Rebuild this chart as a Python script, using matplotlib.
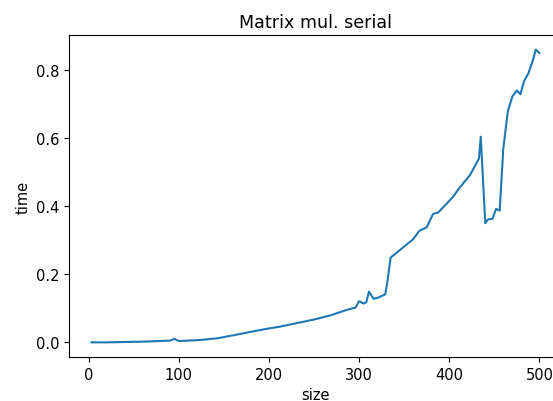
import matplotlib
matplotlib.use("Agg")
import matplotlib.pyplot as plt

plt.rcParams["font.size"] = 10.5

# matrix size vs. runtime (seconds)
sizes = [3, 20, 40, 60, 80, 90, 95, 100, 110, 124, 143, 161, 180, 198, 212,
         230, 250, 268, 286, 296, 300, 305, 308, 311, 316, 321, 329, 331, 335,
         342, 360, 367, 375, 382, 388, 397, 404, 412, 423, 430, 433, 435, 440,
         443, 448, 452, 456, 460, 465, 470, 475, 479, 483, 488, 493, 496, 500]
times = [0.000, 0.000, 0.001, 0.002, 0.004, 0.005, 0.010, 0.004, 0.005, 0.007,
         0.012, 0.021, 0.031, 0.040, 0.046, 0.056, 0.067, 0.079, 0.095, 0.102,
         0.121, 0.114, 0.118, 0.149, 0.128, 0.131, 0.141, 0.170, 0.249, 0.264,
         0.303, 0.328, 0.338, 0.377, 0.382, 0.407, 0.427, 0.456, 0.491, 0.525,
         0.540, 0.604, 0.350, 0.361, 0.363, 0.392, 0.387, 0.569, 0.678, 0.722,
         0.740, 0.729, 0.767, 0.791, 0.830, 0.860, 0.850]

fig = plt.figure(figsize=(5.53, 4.02), dpi=100)
# the reference is cropped on the right, so the axes run past the figure edge
ax = fig.add_axes([0.1248, 0.1095, 0.891, 0.801])
ax.plot(sizes, times)
ax.set_title("Matrix mul. serial")
ax.set_xlabel("size")
ax.set_ylabel("time")
ax.set_xticks([0, 100, 200, 300, 400, 500])
ax.set_yticks([0.0, 0.2, 0.4, 0.6, 0.8])

fig.savefig("out.png", dpi=100)
